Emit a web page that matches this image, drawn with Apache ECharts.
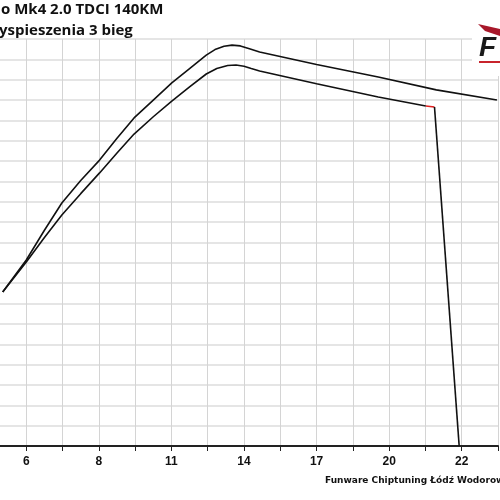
<!DOCTYPE html>
<html>
<head>
<meta charset="utf-8" />
<script src="https://cdn.jsdelivr.net/npm/echarts@6/dist/echarts.min.js"></script>
</head>
<body style="margin:0;overflow:hidden">
<div id="main" style="width:514px;height:500px;margin-left:-13px"></div>
<script>
// x in tick-index units, labels every second tick
var tickLabels = {0: '6', 2: '8', 4: '11', 6: '14', 8: '17', 10: '20', 12: '22'};
var upperX = [-0.65, 0, 0.5, 0.98, 1.5, 2.02, 2.5, 2.97, 3.5, 4.01, 4.5, 4.96, 5.2, 5.45, 5.67, 5.9, 6.15, 6.43, 8.0, 9.7, 11.3, 12.97];
var upperY = [7.57, 9.14, 10.6, 11.94, 13.05, 14.05, 15.12, 16.12, 17.0, 17.84, 18.55, 19.21, 19.48, 19.64, 19.7, 19.66, 19.52, 19.36, 18.75, 18.13, 17.5, 17.0];
var lowerX = [-0.65, 0, 0.5, 0.98, 1.5, 2.02, 2.5, 2.97, 3.5, 4.01, 4.5, 4.96, 5.25, 5.55, 5.78, 6.0, 6.2, 6.43, 8.0, 9.7, 11.01];
var lowerY = [7.57, 9.04, 10.25, 11.35, 12.4, 13.42, 14.4, 15.33, 16.18, 16.95, 17.65, 18.28, 18.55, 18.7, 18.72, 18.66, 18.55, 18.43, 17.8, 17.15, 16.71];
var redX = [11.01, 11.25];
var redY = [16.71, 16.66];
var dropX = [11.25, 11.93];
var dropY = [16.66, 0];

function pts(xs, ys) { return xs.map(function (x, i) { return [x, ys[i]]; }); }

var ox = 13; // container offset
var chart = echarts.init(document.getElementById('main'));
chart.setOption({
    animation: false,
    grid: { left: 0, right: 0, top: 39, bottom: 54 },
    xAxis: {
        type: 'value', min: -1, max: 13, interval: 1,
        axisLine: { lineStyle: { color: '#222', width: 2 } },
        axisTick: { show: true, length: 5, lineStyle: { color: '#222' } },
        axisLabel: {
            margin: 10, color: '#111', fontWeight: 'bold', fontSize: 12, fontFamily: 'Liberation Sans',
            formatter: function (v) { return tickLabels[v] || ''; }
        },
        splitLine: { lineStyle: { color: '#d4d4d4' } }
    },
    yAxis: {
        type: 'value', min: 0, max: 20, interval: 1,
        axisLine: { show: false }, axisTick: { show: false }, axisLabel: { show: false },
        splitLine: { lineStyle: { color: '#dcdcdc', width: 1.5 } }
    },
    graphic: [
        { type: 'rect', shape: { x: ox + 472, y: 20, width: 28, height: 56 }, style: { fill: '#fff' }, z: 10 },
        { type: 'text', left: ox + 1, top: 2, z: 10, style: { text: 'o Mk4 2.0 TDCI 140KM', font: 'bold 15px "Open Sans"', fill: '#111' } },
        { type: 'text', left: ox - 1, top: 23, z: 10, style: { text: 'yspieszenia 3 bieg', font: 'bold 15px "Open Sans"', fill: '#111' } },
        { type: 'polygon', z: 11, shape: { points: [[ox + 478, 24], [ox + 500, 29], [ox + 500, 36], [ox + 485, 31]] }, style: { fill: '#a8182a' } },
        { type: 'text', left: ox + 479, top: 34, z: 11, style: { text: 'F', font: 'italic bold 28px "Liberation Sans"', fill: '#1a1a1a' } },
        { type: 'rect', z: 11, shape: { x: ox + 479, y: 61, width: 21, height: 2 }, style: { fill: '#c8242c' } },
        { type: 'text', left: ox + 325, top: 476, z: 10, style: { text: 'Funware Chiptuning Łódź Wodorowanie', font: 'bold 9px "DejaVu Sans"', fill: '#111' } }
    ],
    series: [
        { type: 'line', data: pts(upperX, upperY), symbol: 'none', lineStyle: { color: '#111', width: 1.6 } },
        { type: 'line', data: pts(lowerX, lowerY), symbol: 'none', lineStyle: { color: '#111', width: 1.6 } },
        { type: 'line', data: pts(redX, redY), symbol: 'none', lineStyle: { color: '#e02020', width: 1.6 } },
        { type: 'line', data: pts(dropX, dropY), symbol: 'none', lineStyle: { color: '#111', width: 1.6 } }
    ]
});
</script>
</body>
</html>
